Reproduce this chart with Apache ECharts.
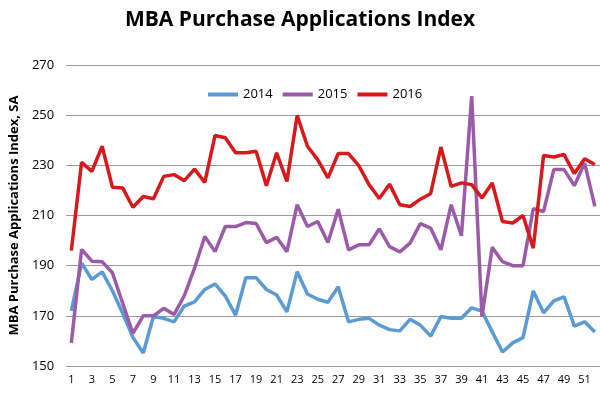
<!DOCTYPE html>
<html>
<head>
<meta charset="utf-8">
<script src="https://cdn.jsdelivr.net/npm/echarts@6/dist/echarts.min.js"></script>
<style>
  html, body { margin: 0; padding: 0; background: #fff; }
  #chart { width: 600px; height: 396px; }
</style>
</head>
<body>
<div id="chart"></div>
<script>
// weeks 1..52
const weeks = Array.from({ length: 52 }, (_, i) => String(i + 1))

const s2014 = [172, 191, 184.5, 187.5, 180, 171, 161.4, 155.2, 169.7, 169, 167.6, 173.9, 175.6, 180.5, 182.7, 177.9,
  170.3, 185.2, 185.2, 180.5, 178.3, 171.6, 187.6, 178.7, 176.6, 175.4, 181.6, 167.6, 168.6, 169, 166.3, 164.5,
  164, 168.6, 166.3, 161.9, 169.7, 169, 169, 173.2, 171.9, 163.6, 155.6, 159.2, 161.3, 179.9, 171.2, 176, 177.6,
  165.9, 167.6, 163.6]

const s2015 = [159.2, 196.5, 191.8, 191.6, 187.2, 175, 163, 170, 170, 173, 170.5, 178, 189, 201.6, 195.6, 205.6,
  205.6, 207.2, 206.8, 199.2, 201.3, 195.6, 214.3, 205.6, 207.6, 199.2, 212.5, 196.3, 198.3, 198.3, 204.7, 197.6,
  195.5, 199, 206.8, 205, 196.3, 214.3, 201.9, 257.6, 169.7, 197.3, 191.6, 190, 190, 212.7, 211.6, 228.3, 228.3,
  221.9, 230.9, 213.6]

const s2016 = [196, 231.2, 227.6, 237.6, 221.3, 221, 213.3, 217.6, 216.7, 225.6, 226.3, 223.9, 228.5, 223.2, 241.9,
  241, 235, 235, 235.6, 221.9, 235, 223.6, 249.9, 237.6, 232.3, 225, 234.7, 234.7, 229.9, 222.3, 216.8, 222.5,
  214.3, 213.6, 216.5, 218.7, 237.3, 221.6, 223, 222.3, 217, 223, 207.6, 207, 210, 197, 233.9, 233.3, 234.3,
  226.7, 232.6, 230.3]

const chart = echarts.init(document.getElementById('chart'))

const lineSeries = (name, data, color) => ({
  name,
  type: 'line',
  data,
  symbol: 'none',
  lineStyle: { width: 3.5, color },
  itemStyle: { color },
})

chart.setOption({
  animation: false,
  textStyle: { fontFamily: 'Open Sans' },
  title: {
    text: 'MBA Purchase Applications Index',
    left: 'center',
    top: 5,
    textStyle: { fontSize: 21, fontWeight: 'bold', color: '#000', fontFamily: 'Open Sans' },
  },
  legend: {
    top: 83,
    left: 203,
    itemWidth: 30,
    itemHeight: 4,
    itemGap: 10,
    icon: 'rect',
    textStyle: { fontSize: 13, color: '#000' },
    data: ['2014', '2015', '2016'],
  },
  grid: { left: 60, right: 0, top: 65, bottom: 30 },
  xAxis: {
    type: 'category',
    data: weeks,
    boundaryGap: true,
    axisLine: { lineStyle: { color: '#999' } },
    axisTick: { interval: 0, length: 5, lineStyle: { color: '#999' } },
    axisLabel: { interval: 1, fontSize: 11, color: '#000', margin: 8 },
  },
  yAxis: {
    type: 'value',
    min: 150,
    max: 270,
    interval: 20,
    name: 'MBA Purchase Applications Index, SA',
    nameLocation: 'middle',
    nameGap: 41,
    nameTextStyle: { fontSize: 13, fontWeight: 'bold', color: '#000' },
    axisLine: { show: false },
    axisTick: { show: false },
    axisLabel: { fontSize: 13, color: '#000', margin: 12 },
    splitLine: { lineStyle: { color: '#9a9a9a', width: 1 } },
  },
  series: [
    lineSeries('2014', s2014, '#5b9bd5'),
    lineSeries('2015', s2015, '#9b5ba8'),
    lineSeries('2016', s2016, '#d7191c'),
  ],
})
</script>
</body>
</html>
